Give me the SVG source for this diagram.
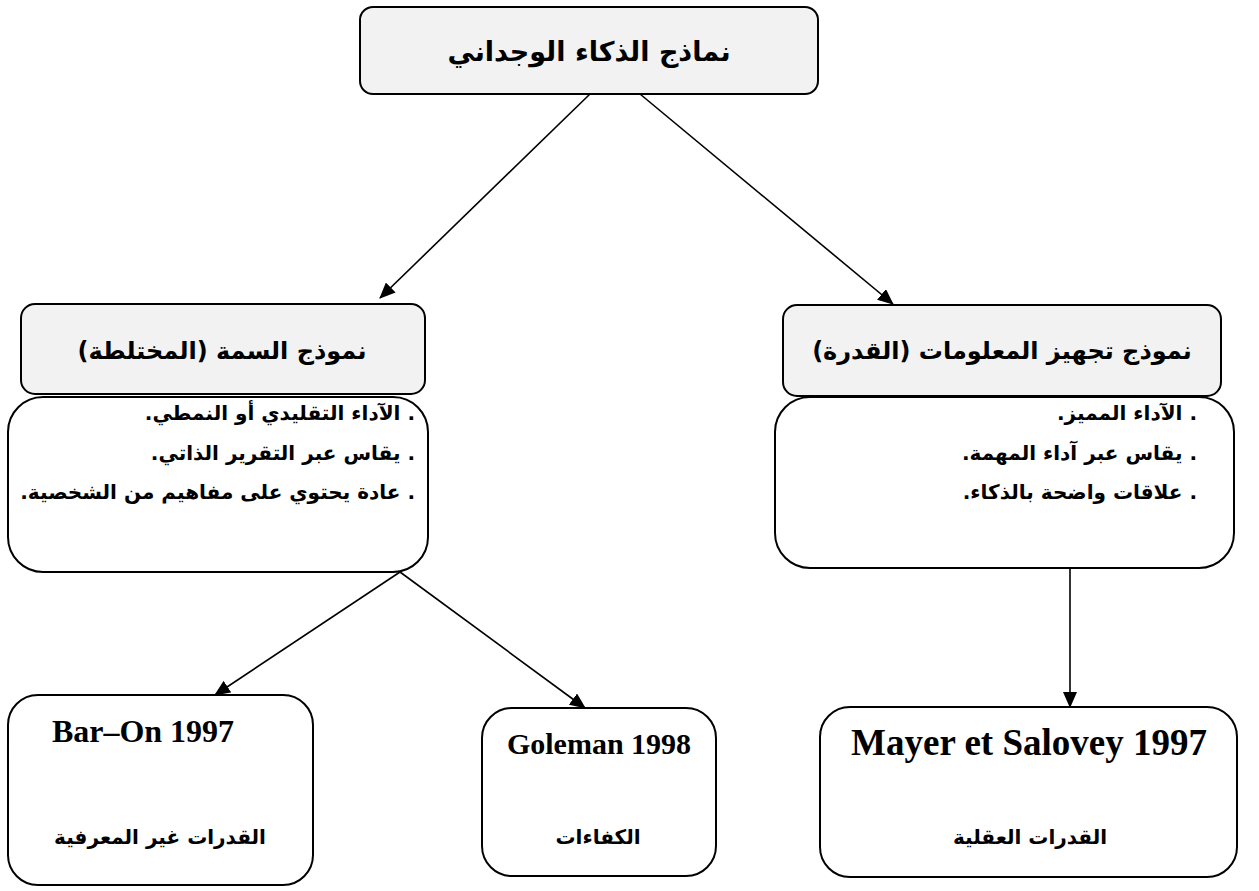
<svg xmlns="http://www.w3.org/2000/svg" width="1259" height="891" viewBox="0 0 1259 891">
<style>
.hdr{fill:#f2f2f2;stroke:#000;stroke-width:2}
.box{fill:#fff;stroke:#000;stroke-width:2}
.ar{font-family:"DejaVu Sans","Noto Sans",sans-serif;font-weight:bold;fill:#000}
.lat{font-family:"Liberation Serif","DejaVu Serif",serif;font-weight:bold;fill:#000}
.con{stroke:#000;stroke-width:1.6;fill:none;marker-end:url(#ah)}
</style>
<defs>
<marker id="ah" markerUnits="userSpaceOnUse" markerWidth="16" markerHeight="14" refX="15" refY="7" orient="auto">
<path d="M0,0 L16,7 L0,14 Z" fill="#000"/>
</marker>
</defs>
<rect width="1259" height="891" fill="#fff"/>
<g id="connectors">
<line class="con" x1="590" y1="94" x2="380" y2="298"/>
<line class="con" x1="640" y1="94" x2="893" y2="304"/>
<line class="con" x1="400" y1="572" x2="215" y2="695"/>
<line class="con" x1="400" y1="572" x2="585" y2="708"/>
<line class="con" x1="1070" y1="568" x2="1070" y2="707"/>
</g>
<g id="root">
<rect class="hdr" x="360" y="7" width="458" height="87" rx="13"/>
<text class="ar" x="589" y="61" font-size="27" text-anchor="middle" direction="rtl">نماذج الذكاء الوجداني</text>
</g>
<g id="trait-header">
<rect class="hdr" x="21" y="304" width="404" height="90" rx="14"/>
<text class="ar" x="222" y="359" font-size="24" text-anchor="middle" direction="rtl">نموذج السمة (المختلطة)</text>
</g>
<g id="trait-body">
<rect class="box" x="8" y="397" width="420" height="175" rx="35"/>
<text class="ar" x="415" y="420" font-size="20" text-anchor="start" direction="rtl">. الآداء التقليدي أو النمطي.</text>
<text class="ar" x="415" y="460" font-size="20" text-anchor="start" direction="rtl">. يقاس عبر التقرير الذاتي.</text>
<text class="ar" x="415" y="499" font-size="20" text-anchor="start" direction="rtl">. عادة يحتوي على مفاهيم من الشخصية.</text>
</g>
<g id="ability-header">
<rect class="hdr" x="783" y="305" width="438" height="91" rx="14"/>
<text class="ar" x="1002" y="359" font-size="24" text-anchor="middle" direction="rtl">نموذج تجهيز المعلومات (القدرة)</text>
</g>
<g id="ability-body">
<rect class="box" x="775" y="397" width="459" height="171" rx="35"/>
<text class="ar" x="1197" y="420" font-size="20" text-anchor="start" direction="rtl">. الآداء المميز.</text>
<text class="ar" x="1197" y="460" font-size="20" text-anchor="start" direction="rtl">. يقاس عبر آداء المهمة.</text>
<text class="ar" x="1197" y="499" font-size="20" text-anchor="start" direction="rtl">. علاقات واضحة بالذكاء.</text>
</g>
<g id="baron">
<rect class="box" x="8" y="695" width="305" height="190" rx="30"/>
<text class="lat" x="143" y="742" font-size="32" text-anchor="middle">Bar–On 1997</text>
<text class="ar" x="160" y="844" font-size="20" text-anchor="middle" direction="rtl">القدرات غير المعرفية</text>
</g>
<g id="goleman">
<rect class="box" x="482" y="708" width="234" height="168" rx="30"/>
<text class="lat" x="599" y="754" font-size="30" text-anchor="middle">Goleman 1998</text>
<text class="ar" x="598" y="844" font-size="20" text-anchor="middle" direction="rtl">الكفاءات</text>
</g>
<g id="mayer">
<rect class="box" x="820" y="707" width="417" height="170" rx="30"/>
<text class="lat" x="1029" y="755" font-size="37" text-anchor="middle">Mayer et Salovey 1997</text>
<text class="ar" x="1030" y="844" font-size="20" text-anchor="middle" direction="rtl">القدرات العقلية</text>
</g>
</svg>
